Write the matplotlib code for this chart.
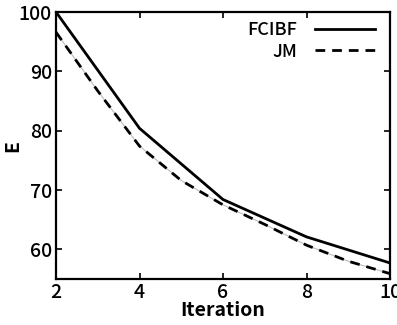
import matplotlib
matplotlib.use('Agg')
import matplotlib.pyplot as plt

# data
iter_fc = [2, 4, 6, 8, 10]
e_fcibf = [100.0, 80.4, 68.4, 62.1, 57.7]

iter_jm = [2, 3, 4, 5, 6, 7, 8, 9, 10]
e_jm = [96.6, 86.7, 77.4, 71.6, 67.5, 64.2, 60.7, 58.0, 55.9]

plt.rcParams['font.family'] = ['Noto Sans CJK JP', 'DejaVu Sans']
plt.rcParams['font.weight'] = 'medium'

fig = plt.figure(figsize=(3.97, 3.25), dpi=100)
ax = fig.add_axes([56 / 397, 1 - 279 / 325, 334 / 397, 267 / 325])

ax.plot(iter_fc, e_fcibf, color='black', lw=2.0, label='FCIBF')
ax.plot(iter_jm, e_jm, color='#bbbbbb', lw=0.8)
ax.plot(iter_jm, e_jm, color='black', lw=2.0, ls=(0, (3.5, 2.5)), label='JM')

ax.set_xlim(2, 10)
ax.set_ylim(55, 100)
ax.set_xticks([2, 4, 6, 8, 10])
ax.set_yticks([60, 70, 80, 90, 100])
ax.tick_params(direction='in', top=True, right=True, length=4, width=1.2,
               labelsize=14, pad=3)
for s in ax.spines.values():
    s.set_linewidth(1.6)

ax.set_xlabel('Iteration', fontsize=14, labelpad=-1, fontweight='bold')
ax.set_ylabel('E', fontsize=14, fontweight='bold')
ax.yaxis.set_label_coords(-0.1, 0.5)

ax.legend(loc='upper right', bbox_to_anchor=(0.982, 1.0), frameon=False,
          markerfirst=False, prop={'size': 13, 'weight': 'medium'},
          handlelength=3.3, handletextpad=1.0, labelspacing=0.2,
          borderaxespad=0.1)

fig.savefig('out.png', dpi=100)
